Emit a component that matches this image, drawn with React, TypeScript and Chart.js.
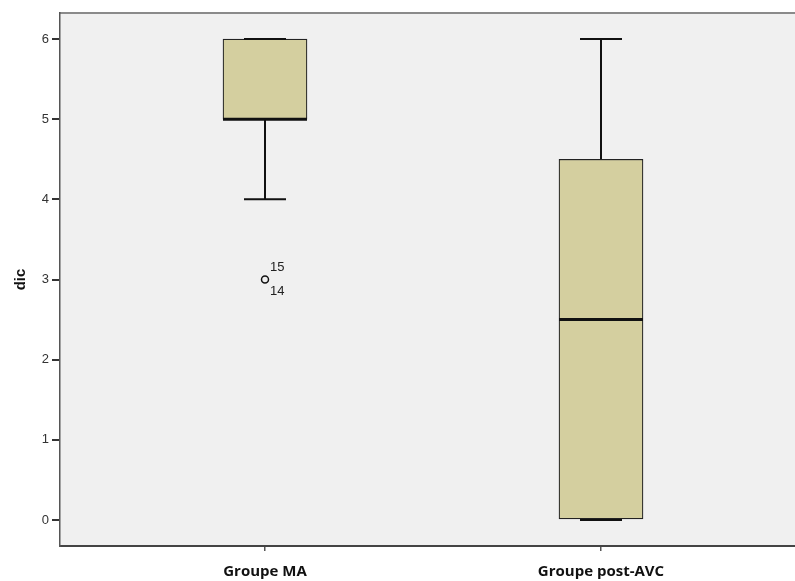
import { useEffect, useRef } from "react";
import { Chart, registerables } from "chart.js";

Chart.register(...registerables);

const categories = ["Groupe MA", "Groupe post-AVC"];
const positions = [1, 2];
const whiskerLow = [4, 0];
const q1 = [5, 0];
const median = [5, 2.5];
const q3 = [6, 4.5];
const whiskerHigh = [6, 6];
const outlierGroup = [0];
const outlierValue = [3];
const outlierLabels = [["15", "14"]];
const yTicks = [0, 1, 2, 3, 4, 5, 6];
const yTitle = "dic";

const boxPlugin = {
  id: "boxExtras",
  beforeDraw(chart: any) {
    const { ctx, chartArea: a } = chart;
    ctx.save();
    ctx.fillStyle = "#f0f0f0";
    ctx.fillRect(a.left, a.top, a.right - a.left, a.bottom - a.top);
    ctx.strokeStyle = "#8a8a8a";
    ctx.lineWidth = 2;
    ctx.beginPath();
    ctx.moveTo(a.left, a.top);
    ctx.lineTo(a.right, a.top);
    ctx.stroke();
    ctx.restore();
  },
  afterDatasetsDraw(chart: any) {
    const { ctx } = chart;
    const xs = chart.scales.x;
    const ys = chart.scales.y;
    ctx.save();
    ctx.strokeStyle = "#111";
    ctx.lineCap = "butt";
    positions.forEach((p, i) => {
      const cx = Math.round(xs.getPixelForValue(p));
      const boxHalf = 42;
      const capHalf = 21;
      ctx.lineWidth = 2;
      ctx.beginPath();
      ctx.moveTo(cx, ys.getPixelForValue(q3[i]));
      ctx.lineTo(cx, ys.getPixelForValue(whiskerHigh[i]));
      ctx.moveTo(cx, ys.getPixelForValue(q1[i]));
      ctx.lineTo(cx, ys.getPixelForValue(whiskerLow[i]));
      ctx.stroke();
      ctx.beginPath();
      const yh = ys.getPixelForValue(whiskerHigh[i]);
      const yl = ys.getPixelForValue(whiskerLow[i]);
      ctx.moveTo(cx - capHalf, yh);
      ctx.lineTo(cx + capHalf, yh);
      ctx.moveTo(cx - capHalf, yl);
      ctx.lineTo(cx + capHalf, yl);
      ctx.stroke();
      ctx.lineWidth = 3;
      ctx.beginPath();
      const ym = ys.getPixelForValue(median[i]);
      ctx.moveTo(cx - boxHalf, ym);
      ctx.lineTo(cx + boxHalf, ym);
      ctx.stroke();
    });
    outlierGroup.forEach((g, k) => {
      const cx = xs.getPixelForValue(positions[g]);
      const cy = ys.getPixelForValue(outlierValue[k]);
      ctx.lineWidth = 1.5;
      ctx.strokeStyle = "#111";
      ctx.beginPath();
      ctx.arc(cx, cy, 3.5, 0, Math.PI * 2);
      ctx.stroke();
      ctx.fillStyle = "#222";
      ctx.font = '13px "Liberation Sans", Arial, sans-serif';
      ctx.textAlign = "left";
      ctx.textBaseline = "middle";
      const labs = outlierLabels[k];
      ctx.fillText(labs[0], cx + 5, cy - 12);
      if (labs[1]) ctx.fillText(labs[1], cx + 5, cy + 12);
    });
    ctx.restore();
  },
};

export default function App() {
  const ref = useRef<HTMLCanvasElement>(null);
  useEffect(() => {
    if (!ref.current) return;
    const boxData = positions.map((p, i) => ({ x: p, y: [q1[i], q3[i]] }));
    const chart = new Chart(ref.current, {
      type: "bar",
      data: {
        datasets: [
          {
            data: boxData as any,
            backgroundColor: "#d4cf9f",
            borderColor: "#222",
            borderWidth: 1.2,
            borderSkipped: false,
            barThickness: 84,
          },
        ],
      },
      options: {
        animation: false,
        responsive: false,
        events: [],
        layout: { padding: { top: 13, left: 0, right: 0, bottom: 0 } },
        plugins: { legend: { display: false }, tooltip: { enabled: false } },
        scales: {
          x: {
            type: "linear",
            offset: false,
            min: 1 - 205 / 336,
            max: 1 - 205 / 336 + 735 / 336,
            afterFit: (s: any) => {
              s.height = 35;
            },
            afterBuildTicks: (s: any) => {
              s.ticks = positions.map((v) => ({ value: v }));
            },
            ticks: {
              autoSkip: false,
              maxRotation: 0,
              callback: (v: any) => categories[positions.indexOf(Number(v))] ?? "",
              color: "#111",
              font: { family: '"Open Sans", sans-serif', size: 15, weight: "bold" },
              padding: 12,
            },
            grid: { offset: false, drawOnChartArea: false, color: "#555", tickLength: 5, lineWidth: 1.5 },
            border: { color: "#444", width: 2 },
          },
          y: {
            min: -0.325,
            max: 6.325,
            afterFit: (s: any) => {
              s.width = 60;
            },
            afterBuildTicks: (s: any) => {
              s.ticks = yTicks.map((v) => ({ value: v }));
            },
            ticks: {
              color: "#333",
              font: { family: '"Liberation Sans", Arial, sans-serif', size: 13 },
              padding: 3,
            },
            grid: { drawOnChartArea: false, color: "#333", tickLength: 8, lineWidth: 2 },
            border: { color: "#555", width: 1.5 },
            title: {
              display: true,
              text: yTitle,
              color: "#111",
              font: { family: '"Liberation Sans", Arial, sans-serif', size: 15, weight: "bold" },
              padding: { top: 12, bottom: 0 },
            },
          },
        },
      },
      plugins: [boxPlugin],
    });
    return () => chart.destroy();
  }, []);
  return (
    <div style={{ position: "absolute", left: 0, top: 0, width: 795, height: 581, background: "#fff" }}>
      <canvas ref={ref} width={795} height={581} style={{ display: "block" }} />
    </div>
  );
}
